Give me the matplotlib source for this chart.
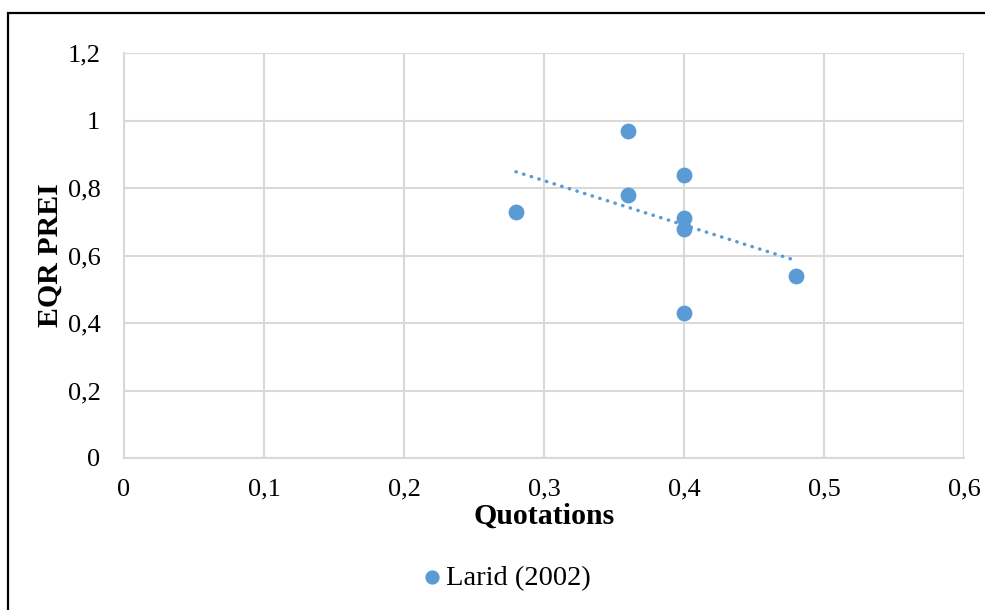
import numpy as np
import matplotlib.pyplot as plt
from matplotlib.patches import Rectangle
from matplotlib.ticker import FuncFormatter

quotations = [0.28, 0.36, 0.36, 0.40, 0.40, 0.40, 0.40, 0.48]
eqr_prei = [0.73, 0.97, 0.78, 0.84, 0.71, 0.68, 0.43, 0.54]
series_name = 'Larid (2002)'

plt.rcParams['font.family'] = ['Liberation Serif', 'DejaVu Serif']

W, H = 985, 610
fig = plt.figure(figsize=(W / 100, H / 100), dpi=100)
ax = fig.add_axes([124 / W, 1 - 458 / H, (964 - 124) / W, (458 - 53) / H])

color = '#5b9bd5'
grid = '#d9d9d9'

ax.scatter(quotations, eqr_prei, s=130, color=color, zorder=3, label=series_name, linewidths=0)

# linear trendline
slope, intercept = np.polyfit(quotations, eqr_prei, 1)
tx = np.array([min(quotations), max(quotations)])
ax.plot(tx, slope * tx + intercept, color=color, lw=2.5, linestyle=(0, (0.1, 2.2)),
        dash_capstyle='round', zorder=2)

ax.set_xlim(0, 0.6)
ax.set_ylim(0, 1.2)
ax.set_xticks(np.arange(0, 0.61, 0.1))
ax.set_yticks(np.arange(0, 1.21, 0.2))

def comma(v, pos):
    s = '{:.1f}'.format(v).rstrip('0').rstrip('.')
    return s.replace('.', ',')

ax.xaxis.set_major_formatter(FuncFormatter(comma))
ax.yaxis.set_major_formatter(FuncFormatter(comma))
ax.tick_params(length=0, labelsize=19, colors='black')
ax.tick_params(axis='x', pad=15)
ax.tick_params(axis='y', pad=17)

ax.grid(True, color=grid, lw=1.5)
ax.set_axisbelow(True)
for side in ['top', 'right']:
    ax.spines[side].set_visible(False)
for side in ['left', 'bottom']:
    ax.spines[side].set_color(grid)
    ax.spines[side].set_linewidth(1.5)

ax.set_xlabel('Quotations', fontsize=21.5, fontweight='bold', labelpad=1)
ax.set_ylabel('EQR PREI', fontsize=21.5, fontweight='bold', labelpad=3)

fig.legend(loc='center', bbox_to_anchor=(497 / W, 1 - 578 / H), frameon=False,
           fontsize=20.5, handletextpad=-0.5, markerscale=0.9)

fig.patches.append(Rectangle((8 / W, -0.1), 1.2, 1 - 13 / H + 0.1, transform=fig.transFigure,
                             fill=False, edgecolor='black', lw=1.6))

fig.savefig('out.png', dpi=100)
